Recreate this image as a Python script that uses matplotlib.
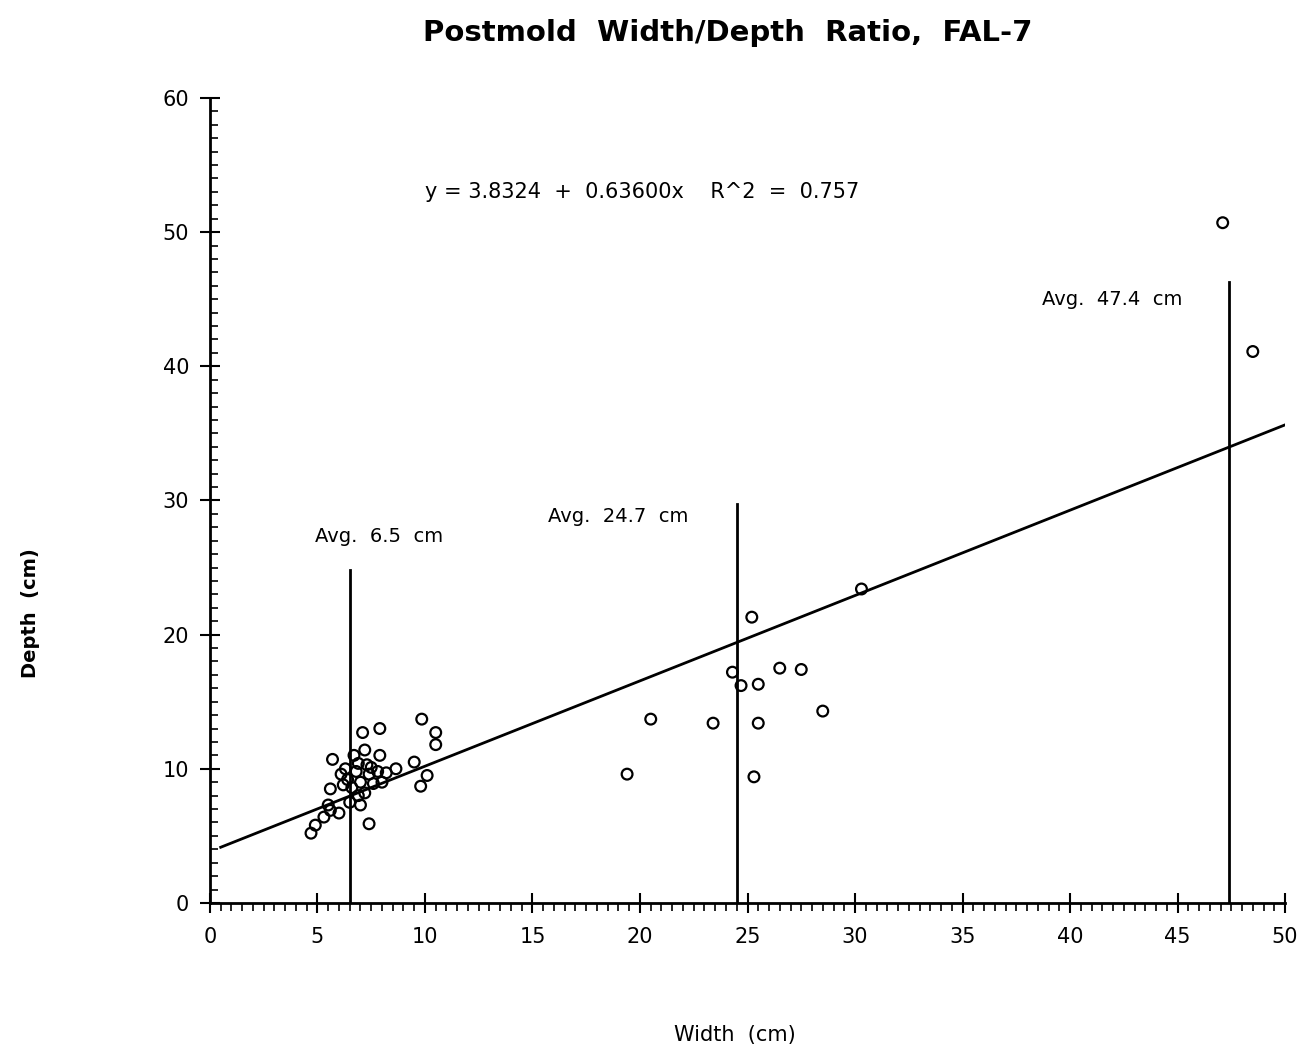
import numpy as np
import matplotlib.pyplot as plt
from matplotlib.ticker import MultipleLocator

#-------------------------------------------------------------------------
# postmold measurements read off the scanned plot

width = [4.7, 4.9, 5.3, 5.6, 6.0, 5.5, 5.6, 5.7, 6.2, 6.4, 6.6, 6.8, 6.9, 7.0,
         7.1, 7.2, 7.2, 7.4, 7.5, 7.6, 7.8, 7.9, 7.9, 7.4, 6.5, 6.1, 6.7, 7.0,
         8.2, 8.65, 8.0, 9.8, 10.1, 9.85, 10.5, 10.5, 9.5, 6.3, 7.3, 6.9,
         19.4, 20.5, 23.4, 24.3, 24.7, 25.2, 25.5, 25.5, 25.3, 26.5, 27.5, 28.5,
         30.3, 47.1, 48.5]

depth = [5.2, 5.8, 6.4, 6.9, 6.7, 7.3, 8.5, 10.7, 8.8, 9.2, 8.6, 9.8, 10.4, 9.0,
         12.7, 11.4, 8.2, 9.6, 10.1, 8.9, 9.8, 11.0, 13.0, 5.9, 7.5, 9.6, 11.0, 7.3,
         9.7, 10.0, 9.0, 8.7, 9.5, 13.7, 12.7, 11.8, 10.5, 10.0, 10.3, 8.0,
         9.6, 13.7, 13.4, 17.2, 16.2, 21.3, 16.3, 13.4, 9.4, 17.5, 17.4, 14.3,
         23.4, 50.7, 41.1]

intercept = 3.8324
slope = 0.63600
r2 = 0.757

avg_x = [6.5, 24.5, 47.4]
avg_top = [24.8, 29.7, 46.3]
avg_labels = ["Avg.  6.5  cm", "Avg.  24.7  cm", "Avg.  47.4  cm"]
label_pos = [(4.9, 26.6), (15.7, 28.1), (38.7, 44.3)]

#-------------------------------------------------------------------------

fig = plt.figure(figsize = (13, 10.53), dpi = 100)
ax = fig.add_axes([0.1615, 0.1425, 0.827, 0.7645])

ax.scatter(width, depth, s = 60, facecolors = "none", edgecolors = "black", linewidths = 1.6, zorder = 3)

xfit = np.array([0.5, 50.0])
ax.plot(xfit, intercept + slope * xfit, color = "black", linewidth = 2.0)

for i in range(len(avg_x)):
    ax.plot([avg_x[i], avg_x[i]], [0, avg_top[i]], color = "black", linewidth = 2.0)
    ax.text(label_pos[i][0], label_pos[i][1], avg_labels[i], fontsize = 14, va = "bottom")

ax.text(10.0, 53.0, f"y = {intercept}  +  {slope:.5f}x    R^2  =  {r2}", fontsize = 15, va = "center")

ax.set_xlim([0, 50])
ax.set_ylim([0, 60])
ax.xaxis.set_major_locator(MultipleLocator(5))
ax.xaxis.set_minor_locator(MultipleLocator(0.5))
ax.yaxis.set_major_locator(MultipleLocator(10))
ax.yaxis.set_minor_locator(MultipleLocator(1))

ax.spines["top"].set_visible(False)
ax.spines["right"].set_visible(False)
ax.spines["left"].set_linewidth(2)
ax.spines["bottom"].set_linewidth(2)

ax.tick_params(axis = "x", which = "major", direction = "inout", length = 14, width = 1.5, labelsize = 15, pad = 10)
ax.tick_params(axis = "x", which = "minor", direction = "out", length = 6, width = 1.2)
ax.tick_params(axis = "y", which = "major", direction = "inout", length = 14, width = 1.5, labelsize = 15, pad = 8)
ax.tick_params(axis = "y", which = "minor", direction = "in", length = 6, width = 1.2)

ax.set_xlabel("Width  (cm)", fontsize = 15)
ax.xaxis.set_label_coords(0.488, -0.152)
ax.set_ylabel("Depth  (cm)", fontsize = 14, fontweight = "bold")
ax.yaxis.set_label_coords(-0.158, 0.36)
fig.suptitle("Postmold  Width/Depth  Ratio,  FAL-7", fontsize = 21, fontweight = "bold", x = 0.56, y = 0.982)

plt.savefig("out.png", dpi = 100)
